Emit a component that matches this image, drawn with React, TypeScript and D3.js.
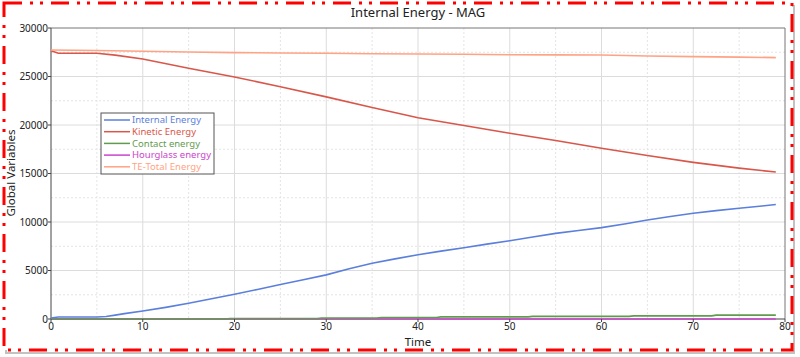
import React from "react";
import * as d3 from "d3";

const W = 800, H = 357;

const internalX = [0, 0.8, 5, 6, 7, 8, 10, 12.5, 15, 17.5, 20, 22.5, 25, 27.5, 30, 32.5, 35, 37.5, 40, 42.5, 45, 47.5, 50, 52.5, 55, 57.5, 60, 62.5, 65, 67.5, 70, 72.5, 75, 77.5, 79];
const internalY = [100, 200, 200, 250, 400, 550, 830, 1200, 1620, 2080, 2560, 3050, 3550, 4050, 4550, 5170, 5740, 6200, 6620, 7000, 7350, 7720, 8070, 8450, 8830, 9130, 9420, 9800, 10200, 10560, 10900, 11170, 11420, 11650, 11800];

const kineticX = [0, 0.8, 5, 7, 10, 15, 20, 25, 30, 35, 40, 45, 50, 55, 60, 65, 70, 75, 79];
const kineticY = [27650, 27400, 27400, 27200, 26800, 25850, 24950, 23950, 22900, 21800, 20750, 19950, 19150, 18400, 17600, 16850, 16150, 15550, 15150];

const contactX = [0, 19, 19.5, 29, 29.5, 35.5, 36, 42, 42.5, 52, 52.5, 63, 63.5, 72, 72.5, 79];
const contactY = [0, 0, 50, 50, 100, 100, 150, 150, 220, 220, 270, 270, 320, 320, 400, 400];

const hourglassX = [0, 79];
const hourglassY = [0, 0];

const totalX = [0, 5, 10, 15, 20, 25, 30, 35, 40, 45, 50, 55, 60, 65, 70, 75, 79];
const totalY = [27730, 27680, 27600, 27530, 27460, 27430, 27390, 27350, 27320, 27290, 27250, 27230, 27210, 27110, 27050, 27000, 26950];

const seriesNames = ["Internal Energy", "Kinetic Energy", "Contact energy", "Hourglass energy", "TE-Total Energy"];
const seriesColors = ["#5b7fdc", "#d9574a", "#5f9c4f", "#cc44cc", "#ffa384"];
const seriesXs = [internalX, kineticX, contactX, hourglassX, totalX];
const seriesYs = [internalY, kineticY, contactY, hourglassY, totalY];
const legendWidths = [69, 64, 68, 79, 69];

const xTicks = [0, 10, 20, 30, 40, 50, 60, 70, 80];
const yTicks = [0, 5000, 10000, 15000, 20000, 25000, 30000];
const xMinor = [5, 15, 25, 35, 45, 55, 65, 75];
const yMinor = [2500, 7500, 12500, 17500, 22500, 27500];

const FONT = "'Noto Sans', 'Open Sans', sans-serif";

export default function App() {
  const L = 51, R = 785, T = 28, B = 319;
  const x = d3.scaleLinear().domain([0, 80]).range([L, R]);
  const y = d3.scaleLinear().domain([0, 30000]).range([B, T]);
  const line = d3.line<[number, number]>().x(d => x(d[0])).y(d => y(d[1]));

  const order = [3, 2, 0, 1, 4];

  return (
    <svg width={W} height={H} style={{ position: "absolute", left: 0, top: 0, background: "#fff" }} fontFamily={FONT}>
      <rect x={6} y={6} width={788} height={347} fill="none" stroke="#999" strokeWidth={2} opacity={0.6} />
      <rect x={4} y={3} width={788} height={347} fill="#fff" stroke="#ff0000" strokeWidth={3} strokeDasharray="18 8 3 7 3 8" />

      <text x={418} y={17} textAnchor="middle" fontSize={13} fill="#222">Internal Energy - MAG</text>

      {xMinor.map(v => <line key={"xm" + v} x1={x(v)} x2={x(v)} y1={T} y2={B} stroke="#e4e4e4" strokeDasharray="2 2" />)}
      {yMinor.map(v => <line key={"ym" + v} x1={L} x2={R} y1={y(v)} y2={y(v)} stroke="#e4e4e4" strokeDasharray="2 2" />)}
      {xTicks.slice(1, -1).map(v => <line key={"xg" + v} x1={x(v)} x2={x(v)} y1={T} y2={B} stroke="#dcdcdc" />)}
      {yTicks.slice(1, -1).map(v => <line key={"yg" + v} x1={L} x2={R} y1={y(v)} y2={y(v)} stroke="#dcdcdc" />)}

      <line x1={L} x2={R} y1={T} y2={T} stroke="#777" />
      <line x1={R} x2={R} y1={T} y2={B} stroke="#777" />
      <line x1={L} x2={L} y1={T} y2={B} stroke="#444" />
      <line x1={L} x2={R} y1={B} y2={B} stroke="#444" />

      {order.map(i => (
        <path key={seriesNames[i]}
          d={line(seriesXs[i].map((v, j) => [v, seriesYs[i][j]] as [number, number])) || ""}
          fill="none" stroke={seriesColors[i]} strokeWidth={1.6} />
      ))}

      {xTicks.map(v => (
        <g key={"xt" + v}>
          <line x1={x(v)} x2={x(v)} y1={B} y2={B + 3} stroke="#444" />
          <text x={x(v)} y={B + 11} textAnchor="middle" fontSize={10} fill="#222">{v}</text>
        </g>
      ))}
      {yTicks.map(v => (
        <g key={"yt" + v}>
          <line x1={L - 3} x2={L} y1={y(v)} y2={y(v)} stroke="#444" />
          <text x={L - 3} y={y(v) + 3.5} textAnchor="end" fontSize={10} fill="#222">{v}</text>
        </g>
      ))}

      <text x={418} y={346} textAnchor="middle" fontSize={11.5} fill="#222">Time</text>
      <text transform={`translate(15,173) rotate(-90)`} textAnchor="middle" fontSize={11.5} fill="#222">Global Variables</text>

      <rect x={101} y={113} width={113} height={61} fill="#fff" stroke="#555" />
      {seriesNames.map((n, i) => (
        <g key={"lg" + n}>
          <line x1={104} x2={130} y1={120 + i * 11.7} y2={120 + i * 11.7} stroke={seriesColors[i]} strokeWidth={1.5} />
          <text x={132} y={123.3 + i * 11.7} fontSize={9.5} fill={seriesColors[i]} textLength={legendWidths[i]}>{n}</text>
        </g>
      ))}
    </svg>
  );
}
